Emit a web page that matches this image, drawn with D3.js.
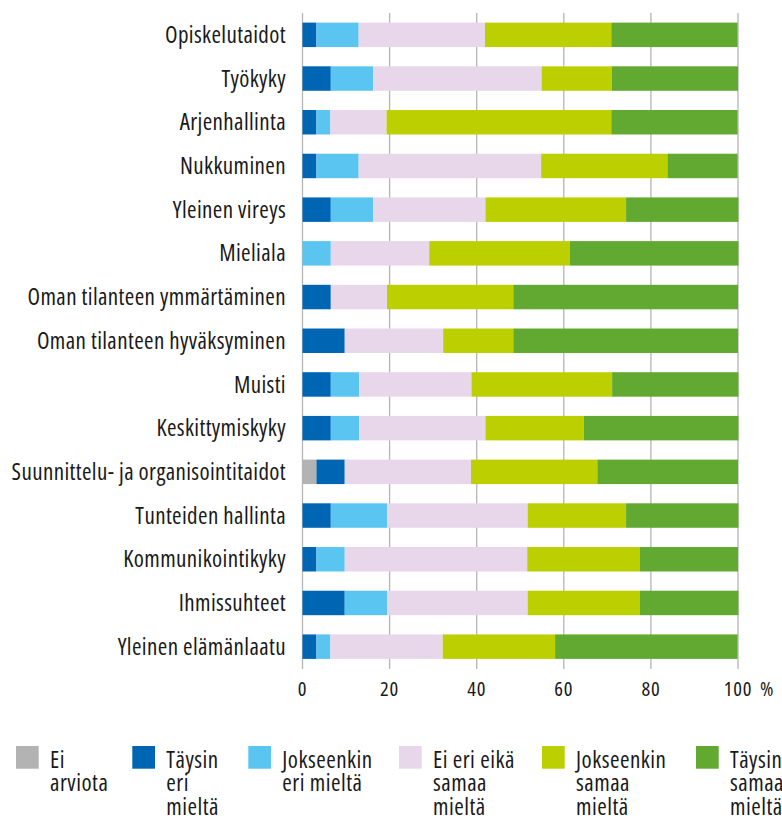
<!DOCTYPE html>
<html><head><meta charset="utf-8">
<script src="https://cdn.jsdelivr.net/npm/d3@7"></script>
<style>
body{margin:0;background:#fff}
text{font-family:"Open Sans",sans-serif;font-stretch:75%;fill:#1a1a1a}
</style>
</head><body>
<svg id="chart" width="782" height="816"></svg>
<script>
// ---- data (percent) ----
const categories = ["Opiskelutaidot","Työkyky","Arjenhallinta","Nukkuminen","Yleinen vireys","Mieliala",
  "Oman tilanteen ymmärtäminen","Oman tilanteen hyväksyminen","Muisti","Keskittymiskyky",
  "Suunnittelu- ja organisointitaidot","Tunteiden hallinta","Kommunikointikyky","Ihmissuhteet","Yleinen elämänlaatu"];
const seriesNames = ["Ei arviota","Täysin eri mieltä","Jokseenkin eri mieltä","Ei eri eikä samaa mieltä","Jokseenkin samaa mieltä","Täysin samaa mieltä"];
const eiArviota        = [0,0,0,0,0,0,0,0,0,0,3.2,0,0,0,0];
const taysinEri        = [3.2,6.5,3.2,3.2,6.5,0,6.5,9.7,6.5,6.5,6.5,6.5,3.2,9.7,3.2];
const jokseenkinEri    = [9.7,9.7,3.2,9.7,9.7,6.5,0,0,6.5,6.5,0,12.9,6.5,9.7,3.2];
const eiEriEikaSamaa   = [29.0,38.7,12.9,41.9,25.8,22.6,12.9,22.6,25.8,29.0,29.0,32.3,41.9,32.3,25.8];
const jokseenkinSamaa  = [29.0,16.1,51.6,29.0,32.3,32.3,29.0,16.1,32.3,22.6,29.0,22.6,25.8,25.8,25.8];
const taysinSamaa      = [29.0,29.0,29.0,16.1,25.8,38.7,51.6,51.6,29.0,35.5,32.3,25.8,22.6,22.6,41.9];
const tickValues = [0,20,40,60,80,100];
const unitLabel = "%";
const legendLines = [["Ei","arviota"],["Täysin","eri","mieltä"],["Jokseenkin","eri mieltä"],
  ["Ei eri eikä","samaa","mieltä"],["Jokseenkin","samaa","mieltä"],["Täysin","samaa","mieltä"]];
const colors = ["#b3b3b3","#0066b3","#5bc5f2","#e8d7ea","#bccf00","#61a931"];

// ---- build ----
const seriesData = [eiArviota,taysinEri,jokseenkinEri,eiEriEikaSamaa,jokseenkinSamaa,taysinSamaa];
const rows = categories.map((c,i)=>{
  const r = {cat:c};
  seriesNames.forEach((s,j)=> r[s]=seriesData[j][i]);
  return r;
});
const stack = d3.stack().keys(seriesNames)(rows);

const svg = d3.select("#chart");
const x = d3.scaleLinear().domain([0,100]).range([302.5,738]);
const y = d3.scaleBand().domain(categories).range([13,668.5]).paddingInner(0.44).paddingOuter(0.22);

// grid
svg.append("g").selectAll("line").data(tickValues).join("line")
  .attr("x1",d=>x(d)).attr("x2",d=>x(d)).attr("y1",13).attr("y2",669)
  .attr("stroke","#b5b5b5").attr("stroke-width",1.3);

// bars
svg.append("g").selectAll("g").data(stack).join("g")
  .attr("fill",(d,i)=>colors[i])
  .selectAll("rect").data(d=>d).join("rect")
  .attr("x",d=>x(d[0])).attr("width",d=>Math.max(0,x(d[1])-x(d[0])))
  .attr("y",d=>y(d.data.cat)).attr("height",y.bandwidth());

// category labels
svg.append("g").selectAll("text").data(categories).join("text")
  .attr("x",286).attr("y",d=>y(d)+y.bandwidth()/2).attr("dy","0.35em")
  .attr("text-anchor","end").style("font-size","23px").style("letter-spacing","0.38px").text(d=>d);

// x axis tick labels
const axis = svg.append("g").attr("transform","translate(0,696)");
axis.selectAll("text").data(tickValues).join("text")
  .attr("x",d=>x(d)).attr("text-anchor","middle").style("font-size","20.5px").style("letter-spacing","0.8px").text(d=>d);
axis.append("text").attr("x",x(100)+22).style("font-size","20.5px").text(unitLabel);

// legend
const legX = [16,132.3,248.3,399,542,696];
const leg = svg.append("g").selectAll("g").data(seriesNames).join("g")
  .attr("transform",(d,i)=>`translate(${legX[i]},746)`);
leg.append("rect").attr("width",22.7).attr("height",22.7).attr("fill",(d,i)=>colors[i]);
leg.each(function(d,i){
  const t = d3.select(this).append("text").attr("x",34).attr("y",21.5)
    .style("font-size","23px").style("letter-spacing","0.5px");
  legendLines[i].forEach((l,k)=> t.append("tspan").attr("x",34).attr("dy",k?23.5:0).text(l));
});
</script>
</body></html>
